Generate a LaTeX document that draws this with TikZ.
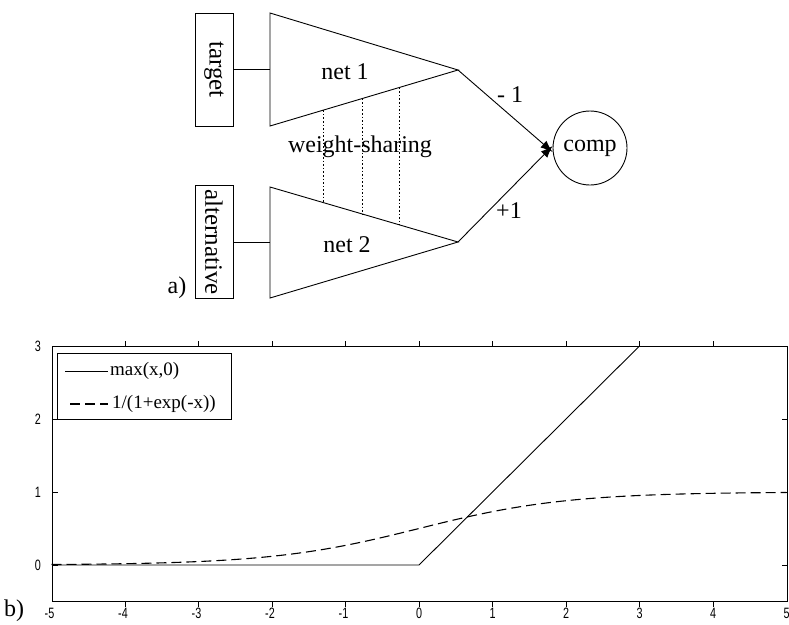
\documentclass[tikz,border=0pt]{standalone}
\usepackage{fontspec}
\setmainfont{Liberation Serif}
\newfontfamily\plotfont{Liberation Sans}
\usetikzlibrary{calc,arrows.meta}
\tikzset{
  ln/.style={line width=0.9pt},
  inbox/.style={draw, ln, minimum width=38, minimum height=113, inner sep=0pt},
  lbl/.style={font=\fontsize{24}{26}\selectfont, inner sep=0pt},
  vlbl/.style={font=\fontsize{25}{27}\selectfont, inner sep=0pt, rotate=-90},
  share/.style={line width=0.7pt, dash pattern=on 1.6pt off 2pt},
  arr/.style={ln, -{Latex[length=12pt,width=9pt]}},
  tick/.style={font=\plotfont\fontsize{15}{16}\selectfont, inner sep=0pt, xscale=0.72},
  leg/.style={font=\fontsize{19}{21}\selectfont, inner sep=0pt, anchor=west},
  dashcurve/.style={line width=1.1pt, dash pattern=on 10pt off 5pt},
}
\begin{document}
\begin{tikzpicture}[x=1pt,y=-1pt]
\useasboundingbox (0,0) rectangle (789,624);
% ---------- part a ----------
\node[inbox] (target) at (214,69.5) {};
\node[vlbl] at (target.center) {target};
\node[inbox] (alt) at (214,242) {};
\node[vlbl] at (alt.center) {alternative};
\coordinate (t1tl) at (270,13);
\coordinate (t1bl) at (270,126);
\coordinate (t1l) at (270,69.5);
\coordinate (apex1) at (458,70);
\coordinate (t2tl) at (270,187);
\coordinate (t2bl) at (270,298);
\coordinate (t2l) at (270,242);
\coordinate (apex2) at (458,242);
\draw[ln, line join=miter] (t1tl) -- (apex1) -- (t1bl) -- cycle;
\draw[ln, line join=miter] (t2tl) -- (apex2) -- (t2bl) -- cycle;
\draw[ln] (target.east) -- (t1l);
\draw[ln] (alt.east) -- (t2l);
\node[lbl] (net1) at (345,72) {net 1};
\node[lbl] (net2) at (347,245) {net 2};
\foreach \f in {0.282,0.489,0.686}{
  \draw[share] ($(t1bl)!\f!(apex1)$) -- ($(t2tl)!\f!(apex2)$);
}
\node[lbl] (ws) at (360,147) {weight-sharing};
\node[draw, ln, circle, minimum size=74, inner sep=0pt] (comp) at (590,148) {};
\node[lbl] at (comp.center) {comp};
\draw[arr] (apex1) -- ($(comp.west)+(0,4)$);
\draw[arr] (apex2) -- ($(comp.west)+(0,-2)$);
\node[lbl] (m1) at (510,95) {- 1};
\node[lbl] (p1) at (509,211) {+1};
\node[lbl] (a) at (177,288) {a)};
% ---------- part b ----------
\begin{scope}
\clip (0,0) rectangle (789,624);
\draw[ln] (52,346) rectangle (787,601.5);
\foreach \xv in {-4,...,4}{
  \draw[ln] ({419+73.5*\xv},601.5) -- ++(0,5.5);
  \draw[ln] ({419+73.5*\xv},346) -- ++(0,-5.5);
}
\foreach \yv in {0,1,2}{
  \draw[ln] (52,{565-73*\yv}) -- ++(5.5,0);
  \draw[ln] (787,{565-73*\yv}) -- ++(-5.5,0);
}
\foreach \xv in {-5,...,5}{
  \node[tick] at ({419+73.5*\xv+(\xv<0?-2:0)},613) {\xv};
}
\foreach \yv in {0,...,3}{
  \node[tick] at (38,{565-73*\yv}) {\yv};
}
% curves
\draw[line width=0.9pt] (52,565) -- (419,565) -- (639.5,346);
\draw[dashcurve] plot[domain=-5:5, samples=120, smooth] ({419+73.5*\x},{565-73/(1+exp(-\x))});
% legend
\draw[ln, fill=white] (57,353) rectangle (231,419);
\draw[line width=0.9pt] (65,371) -- (108,371);
\node[leg] at (110,371) {max(x,0)};
\draw[dashcurve] (70,404) -- (108,404);
\node[leg] at (112,404) {1/(1+exp(-x))};
\end{scope}
\node[lbl] (b) at (14,611) {b)};
\end{tikzpicture}
\end{document}
